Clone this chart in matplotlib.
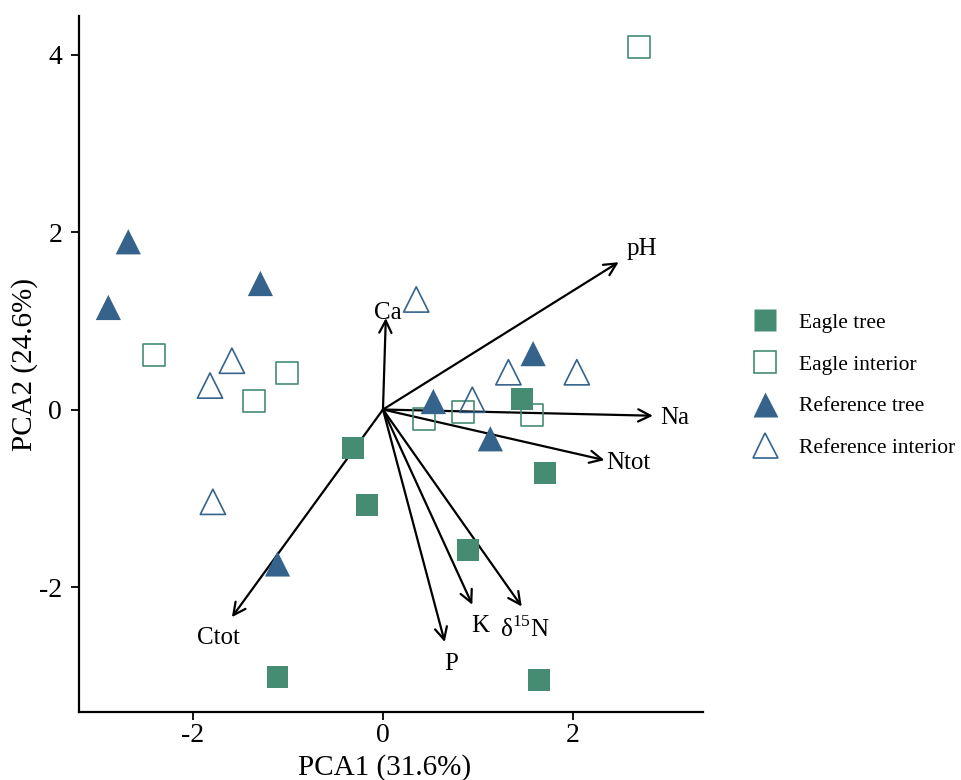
import matplotlib.pyplot as plt
from matplotlib.lines import Line2D

plt.rcParams['font.family'] = ['Liberation Serif', 'DejaVu Serif']
plt.rcParams['axes.unicode_minus'] = False
plt.rcParams['mathtext.fontset'] = 'custom'
plt.rcParams['mathtext.rm'] = 'Liberation Serif'

# sample scores (PCA1, PCA2) per group
eagle_tree_x = [-0.32, -0.17, 0.89, 1.46, 1.71, -1.11, 1.64]
eagle_tree_y = [-0.43, -1.08, -1.58, 0.12, -0.71, -3.01, -3.05]

eagle_int_x = [2.69, -2.41, -1.01, -1.36, 0.43, 0.84, 1.57]
eagle_int_y = [4.08, 0.61, 0.41, 0.10, -0.11, -0.03, -0.06]

ref_tree_x = [-2.68, -2.89, -1.29, 1.58, 0.53, 1.13, -1.11]
ref_tree_y = [1.89, 1.15, 1.42, 0.63, 0.09, -0.33, -1.74]

ref_int_x = [0.35, -1.59, -1.82, 0.94, 1.32, 2.04, -1.79]
ref_int_y = [1.24, 0.55, 0.27, 0.11, 0.42, 0.42, -1.04]

# loadings (arrow tips) and where their labels sit
var_names = ["pH", "Ca", "Na", "Ntot", r"$\mathrm{\delta}^{15}$N", "K", "P", "Ctot"]
load_x = [2.48, 0.03, 2.84, 2.33, 1.46, 0.94, 0.65, -1.59]
load_y = [1.66, 1.03, -0.07, -0.57, -2.22, -2.20, -2.62, -2.34]
lab_x = [2.72, 0.05, 3.07, 2.58, 1.49, 1.02, 0.72, -1.73]
lab_y = [1.81, 1.09, -0.09, -0.60, -2.47, -2.44, -2.87, -2.58]

green = "#468C73"
blue = "#35638C"

fig = plt.figure(figsize=(9.62, 7.8), dpi=100)
ax = fig.add_axes([0.082, 0.087, 0.649, 0.892])

# arrows first so the points sit on top
for i in range(len(var_names)):
    ax.annotate("", xy=(load_x[i], load_y[i]), xytext=(0, 0),
                arrowprops=dict(arrowstyle="->", lw=1.6, color="black",
                                mutation_scale=22, shrinkA=0, shrinkB=0))
    ax.text(lab_x[i], lab_y[i], var_names[i], fontsize=18,
            ha="center", va="center")

ax.scatter(eagle_tree_x, eagle_tree_y, marker="s", s=250, color=green,
           edgecolor="none", zorder=3)
ax.scatter(eagle_int_x, eagle_int_y, marker="s", s=250, facecolor="none",
           edgecolor=green, linewidth=1.2, zorder=3)
ax.scatter(ref_tree_x, ref_tree_y, marker="^", s=330, color=blue,
           edgecolor="none", zorder=3)
ax.scatter(ref_int_x, ref_int_y, marker="^", s=330, facecolor="none",
           edgecolor=blue, linewidth=1.2, zorder=3)

ax.set_xlim(-3.2, 3.37)
ax.set_ylim(-3.41, 4.43)
ax.set_xticks([-2, 0, 2])
ax.set_yticks([-2, 0, 2, 4])
ax.spines["top"].set_visible(False)
ax.spines["right"].set_visible(False)
for s in ["left", "bottom"]:
    ax.spines[s].set_linewidth(1.6)
ax.tick_params(labelsize=20, length=6, width=1.3)
ax.tick_params(axis="x", pad=2)
ax.tick_params(axis="y", pad=6)
ax.set_xlabel("PCA1 (31.6%)", fontsize=21)
ax.set_ylabel("PCA2 (24.6%)", fontsize=21)
ax.xaxis.set_label_coords(0.49, -0.06)
ax.yaxis.set_label_coords(-0.066, 0.5)

handles = [
    Line2D([], [], ls="none", marker="s", ms=16, color=green, mec="none"),
    Line2D([], [], ls="none", marker="s", ms=16, mfc="none", mec=green, mew=1.2),
    Line2D([], [], ls="none", marker="^", ms=18, color=blue, mec="none"),
    Line2D([], [], ls="none", marker="^", ms=18, mfc="none", mec=blue, mew=1.2),
]
labels = ["Eagle tree", "Eagle interior", "Reference tree", "Reference interior"]
fig.legend(handles, labels, loc="center left", bbox_to_anchor=(0.781, 0.506),
           frameon=False, fontsize=15.5, labelspacing=1.0, handletextpad=0.95,
           handlelength=1.25, borderaxespad=0, borderpad=0)

fig.savefig("out.png", dpi=100)
